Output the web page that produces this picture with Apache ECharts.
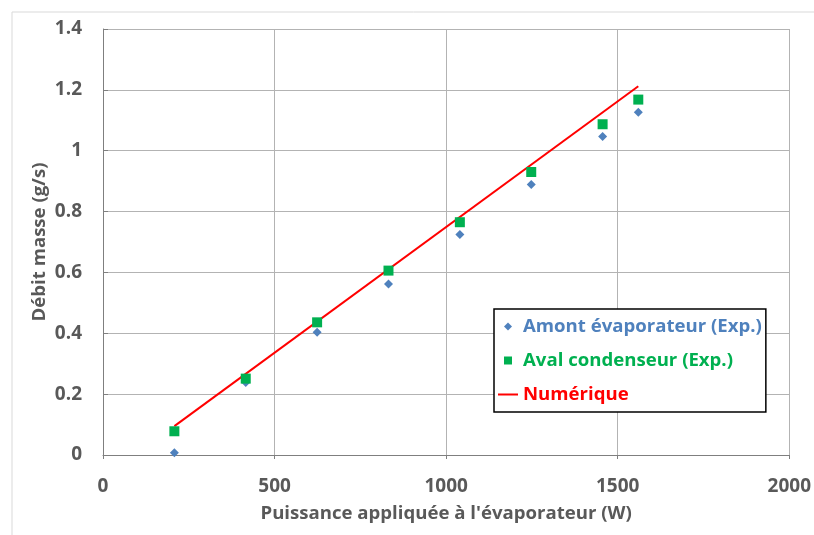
<!DOCTYPE html>
<html>
<head>
<meta charset="utf-8">
<script src="https://cdn.jsdelivr.net/npm/echarts@6/dist/echarts.min.js"></script>
<style>html,body{margin:0;padding:0;background:#fff;}#c{width:814px;height:535px;}</style>
</head>
<body>
<div id="c"></div>
<script>
const powerW = [208, 416, 624, 832, 1040, 1248, 1456, 1560];
const amontExp = [0.007, 0.238, 0.403, 0.562, 0.725, 0.889, 1.047, 1.126];
const avalExp = [0.078, 0.251, 0.436, 0.606, 0.765, 0.930, 1.087, 1.168];
const numPower = [208, 1560];
const numValues = [0.095, 1.212];
const seriesNames = ['Amont évaporateur (Exp.)', 'Aval condenseur (Exp.)', 'Numérique'];
const xTitle = "Puissance appliquée à l'évaporateur (W)";
const yTitle = 'Débit masse (g/s)';

const FONT = 'Open Sans';
const FS = 19;
const FT = 18.6;
const chart = echarts.init(document.getElementById('c'), null, {renderer: 'canvas'});
const pair = (xs, ys) => xs.map((x, i) => [x, ys[i]]);
chart.setOption({
  animation: false,
  backgroundColor: '#fff',
  textStyle: {fontFamily: FONT},
  graphic: [{
    type: 'rect', left: 9.5, top: 9.5, z: -10,
    shape: {x: 0, y: 0, width: 900, height: 700},
    style: {fill: 'none', stroke: '#d9d9d9', lineWidth: 1}
  }],
  grid: {left: 103, right: 24, top: 29, bottom: 80, containLabel: false},
  xAxis: {
    type: 'value', min: 0, max: 2000, interval: 500,
    name: xTitle, nameLocation: 'middle', nameGap: 49,
    nameTextStyle: {fontFamily: FONT, fontWeight: 'bold', fontSize: FT, color: '#595959'},
    axisLine: {show: true, lineStyle: {color: '#7f7f7f', width: 1}},
    axisTick: {show: true, length: 4, lineStyle: {color: '#7f7f7f'}},
    axisLabel: {fontFamily: FONT, fontWeight: 'bold', fontSize: FS, color: '#595959', margin: 22,
      formatter: v => String(v)},
    splitLine: {show: true, lineStyle: {color: '#b3b3b3', width: 1}}
  },
  yAxis: {
    type: 'value', min: 0, max: 1.4, interval: 0.2,
    name: yTitle, nameLocation: 'middle', nameGap: 54, nameRotate: 90, nameMoveOverlap: false,
    nameTextStyle: {fontFamily: FONT, fontWeight: 'bold', fontSize: FT, color: '#595959'},
    axisLine: {show: true, lineStyle: {color: '#7f7f7f', width: 1}},
    axisTick: {show: true, inside: true, length: 5, lineStyle: {color: '#7f7f7f'}},
    axisLabel: {fontFamily: FONT, fontWeight: 'bold', fontSize: FS, color: '#595959', margin: 21,
      formatter: v => String(Math.round(v * 10) / 10)},
    splitLine: {show: true, lineStyle: {color: '#b3b3b3', width: 1}}
  },
  legend: {
    orient: 'vertical', left: 494, top: 309,
    backgroundColor: '#fff', borderColor: '#000', borderWidth: 1.5,
    padding: [7, 4, 7, 4], itemGap: 13, itemWidth: 20, itemHeight: 8,
    textStyle: {fontFamily: FONT, fontWeight: 'bold', fontSize: FT, lineHeight: 21},
    data: [
      {name: seriesNames[0], icon: 'path://M4,0L8,4L4,8L0,4Z', textStyle: {color: '#4F81BD'}},
      {name: seriesNames[1], icon: 'path://M0,0H8V8H0Z', textStyle: {color: '#00B050'}},
      {name: seriesNames[2], icon: 'path://M0,0H20V2H0Z', textStyle: {color: '#FF0000'}}
    ]
  },
  series: [
    {
      name: seriesNames[2], type: 'line', z: 2, symbol: 'none',
      data: pair(numPower, numValues),
      lineStyle: {color: '#FF0000', width: 2}, itemStyle: {color: '#FF0000'}
    },
    {
      name: seriesNames[0], type: 'scatter', z: 3, symbol: 'diamond', symbolSize: 9,
      data: pair(powerW, amontExp), itemStyle: {color: '#4F81BD', opacity: 1}
    },
    {
      name: seriesNames[1], type: 'scatter', z: 4, symbol: 'rect', symbolSize: 10,
      data: pair(powerW, avalExp), itemStyle: {color: '#00B050', opacity: 1}
    }
  ]
});
</script>
</body>
</html>
